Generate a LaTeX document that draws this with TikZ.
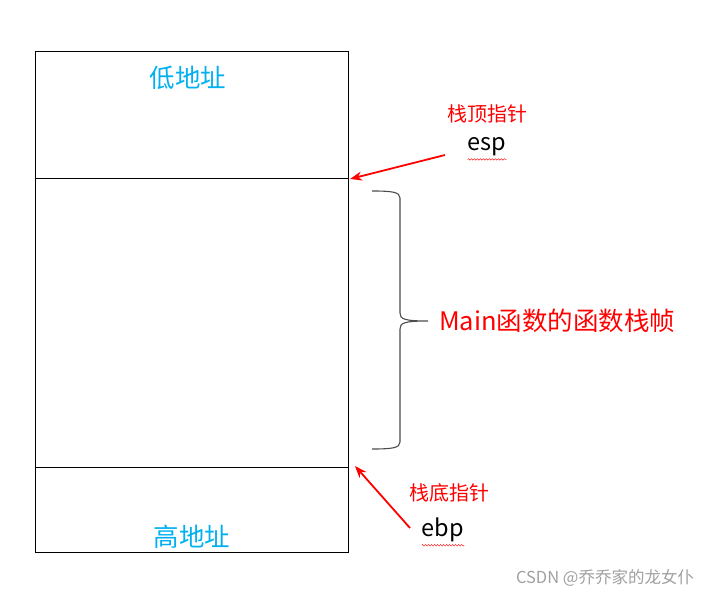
\documentclass[tikz,border=0pt]{standalone}
\usepackage{fontspec}
\setmainfont{Noto Sans CJK SC}
\usetikzlibrary{arrows.meta,decorations.pathmorphing}
\definecolor{cyanblue}{HTML}{00B0F0}
\definecolor{pred}{HTML}{FF0000}
\definecolor{wm}{HTML}{A0A0A0}
\tikzset{
  cell/.style={draw=black, line width=0.9pt, inner sep=0pt, outer sep=0pt, anchor=north west},
  addr/.style={text=cyanblue, font=\fontsize{25.5}{28}\selectfont, inner sep=0pt},
  ptrlabel/.style={text=pred, font=\fontsize{20}{23}\selectfont, inner sep=0pt},
  reg/.style={text=black, font=\fontsize{23.5}{26}\selectfont, inner sep=0pt},
  redarrow/.style={draw=pred, line width=1.8pt, -{Stealth[length=12pt,width=9pt]}},
  squiggle/.style={draw=pred, line width=0.4pt, decorate, decoration={snake, amplitude=0.8pt, segment length=3pt}},
  bracestyle/.style={draw=black!70, line width=1.1pt},
}
\begin{document}
\begin{tikzpicture}[x=1pt,y=-1pt]
\useasboundingbox (0,0) rectangle (710,596);
% cells
\node[cell, minimum width=313pt, minimum height=127pt] (top) at (35,51) {};
\node[cell, minimum width=313pt, minimum height=289pt] (mid) at (35,178) {};
\node[cell, minimum width=313pt, minimum height=85pt] (bot) at (35,467) {};
% address labels
\node[addr] (low) at (188,78) {低地址};
\node[addr] (high) at (192,537) {高地址};
% esp
\node[ptrlabel] (espl) at (487,114) {栈顶指针};
\node[reg] (esp) at (487,147) {esp};
\draw[squiggle] ([yshift=-3pt]esp.south west) -- ([yshift=-3pt]esp.south east);
\coordinate (espTail) at (445,155);
\draw[redarrow] (espTail) -- ([shift={(2,1)}]mid.north east);
% ebp
\node[ptrlabel] (ebpl) at (449,493) {栈底指针};
\node[reg] (ebp) at (443,530) {ebp};
\draw[squiggle] ([yshift=-3pt]ebp.south west) -- ([yshift=-3pt]ebp.south east);
\coordinate (ebpTail) at (410,528);
\draw[redarrow] (ebpTail) -- ([shift={(7,-1)}]bot.north east);
% brace
\coordinate (bTop) at (372,191);
\coordinate (bBot) at (372,449);
\coordinate (bTip) at (428,321);
\draw[bracestyle] (bTop) .. controls (392,191) and (400,192) .. (400,198)
  -- (400,313) .. controls (400,319) and (404,321) .. (bTip)
  (bTip) .. controls (404,321) and (400,323) .. (400,329)
  -- (400,442) .. controls (400,448) and (392,449) .. (bBot);
\node[text=pred, font=\fontsize{25.5}{28}\selectfont, inner sep=0pt, anchor=west] (mainlbl) at (439,321) {Main函数的函数栈帧};
% watermark
\node[text=wm, font=\fontsize{16.5}{19}\selectfont, inner sep=0pt] (wmark) at (605,578) {CSDN @乔乔家的龙女仆};
\end{tikzpicture}
\end{document}
